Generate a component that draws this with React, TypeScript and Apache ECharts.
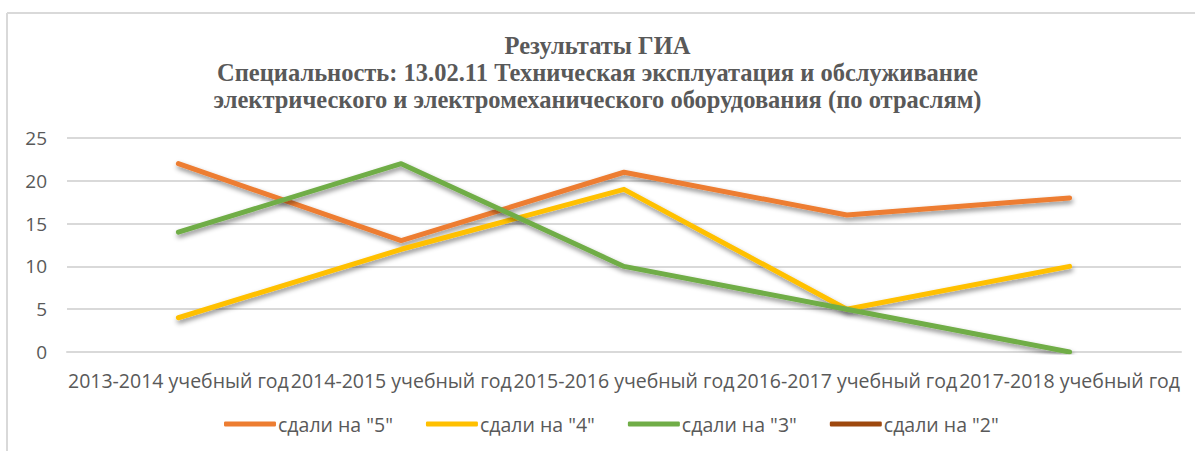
import React, { useEffect, useRef } from "react";
import * as echarts from "echarts";

const categories = [
  "2013-2014 учебный год",
  "2014-2015 учебный год",
  "2015-2016 учебный год",
  "2016-2017 учебный год",
  "2017-2018 учебный год",
];
const grade5 = [22, 13, 21, 16, 18];
const grade4 = [4, 12, 19, 5, 10];
const grade3 = [14, 22, 10, 5, 0];
const grade2: (number | null)[] = [null, null, null, null, null];
const seriesNames = ['сдали на "5"', 'сдали на "4"', 'сдали на "3"', 'сдали на "2"'];
const seriesColors = ["#ED7D31", "#FFC000", "#70AD47", "#9E480E"];
const titleLines = [
  "Результаты ГИА",
  "Специальность: 13.02.11 Техническая эксплуатация и обслуживание",
  "электрического и электромеханического оборудования (по отраслям)",
];

export default function App() {
  const ref = useRef<HTMLDivElement>(null);
  useEffect(() => {
    if (!ref.current) return;
    const chart = echarts.init(ref.current, undefined, { renderer: "svg" });
    const font = "Open Sans";
    const datasets = [grade5, grade4, grade3, grade2];
    chart.setOption({
      animation: false,
      backgroundColor: "#ffffff",
      title: {
        text: titleLines.join("\n"),
        left: "center",
        top: 27,
        textStyle: {
          fontFamily: "Liberation Serif",
          fontWeight: "bold",
          fontSize: 24.5,
          color: "#595959",
          lineHeight: 27,
        },
      },
      graphic: [
        { type: "line", shape: { x1: 7, y1: 13, x2: 1195, y2: 13 }, style: { stroke: "#d9d9d9", lineWidth: 2 } },
        { type: "line", shape: { x1: 7, y1: 13, x2: 7, y2: 451 }, style: { stroke: "#d9d9d9", lineWidth: 2 } },
      ],
      legend: {
        bottom: 12,
        left: 219,
        icon: "roundRect",
        itemWidth: 52,
        itemHeight: 5,
        itemGap: 33,
        textStyle: { fontFamily: font, fontSize: 19.5, color: "#595959", padding: [0, 0, 0, -3] },
        data: seriesNames,
      },
      grid: { left: 67, right: 14, top: 138, bottom: 99 },
      xAxis: {
        type: "category",
        data: categories,
        axisLine: { show: true, lineStyle: { color: "#d9d9d9", width: 2 } },
        axisTick: { show: false },
        axisLabel: { fontFamily: font, fontSize: 19.5, color: "#595959", margin: 18, interval: 0 },
      },
      yAxis: {
        type: "value",
        min: 0,
        max: 25,
        interval: 5,
        axisLine: { show: false },
        axisTick: { show: false },
        splitLine: { lineStyle: { color: "#d9d9d9", width: 2 } },
        axisLabel: { fontFamily: font, fontSize: 19, color: "#595959", margin: 20 },
      },
      series: seriesNames.map((name, i) => ({
        name,
        type: "line",
        data: datasets[i],
        showSymbol: false,
        symbol: "none",
        color: seriesColors[i],
        lineStyle: {
          width: 5,
          color: seriesColors[i],
          cap: "round",
          join: "round",
          shadowColor: "rgba(0,0,0,0.45)",
          shadowBlur: 5,
          shadowOffsetX: 1,
          shadowOffsetY: 3,
        },
        itemStyle: { color: seriesColors[i] },
      })),
    });
    return () => chart.dispose();
  }, []);
  return (
    <div
      ref={ref}
      style={{ position: "absolute", left: 0, top: 0, width: 1195, height: 451 }}
    />
  );
}
